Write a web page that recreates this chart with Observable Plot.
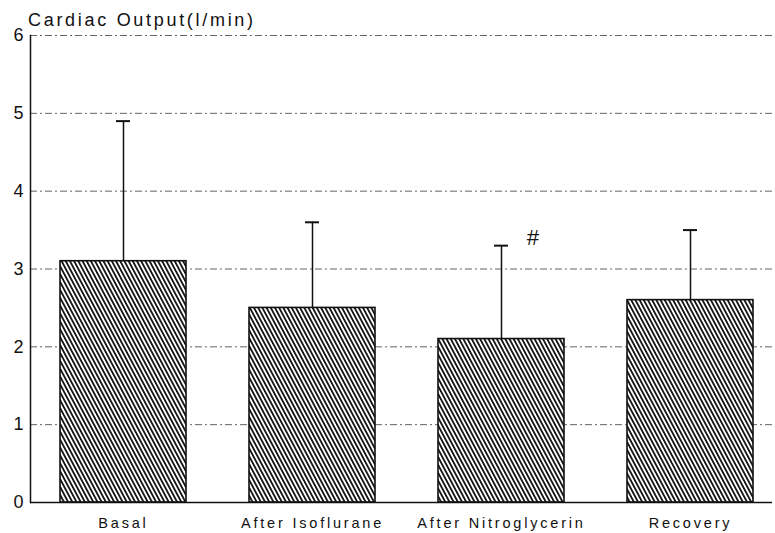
<!DOCTYPE html>
<html>
<head>
<meta charset="utf-8">
<script src="https://cdn.jsdelivr.net/npm/d3@7"></script>
<script src="https://cdn.jsdelivr.net/npm/@observablehq/plot@0.6"></script>
<style>
  body { margin: 0; background: white; }
  #title { height: 29px; box-sizing: border-box; padding-top: 11px; padding-left: 28px;
    font-family: "Liberation Sans", Arial, sans-serif; font-size: 18px; line-height: 18px;
    letter-spacing: 2.7px; color: #111; }
</style>
</head>
<body>
<div id="title">Cardiac Output(l/min)</div>
<div id="chart"></div>
<script>
const categories = ["Basal", "After Isoflurane", "After Nitroglycerin", "Recovery"];
const means = [3.1, 2.5, 2.1, 2.6];
const upperValues = [4.9, 3.6, 3.3, 3.5];
const yTicks = [0, 1, 2, 3, 4, 5, 6];
const gridValues = [1, 2, 3, 4, 5, 6];
const annotationCategories = ["After Nitroglycerin"];
const annotationSymbols = ["#"];

const data = categories.map((c, i) => ({category: c, mean: means[i], upper: upperValues[i]}));
const annotations = annotationCategories.map((c, i) => ({
  category: c, symbol: annotationSymbols[i],
  upper: upperValues[categories.indexOf(c)]
}));

const svg = Plot.plot({
  width: 775,
  height: 504,
  marginTop: 6,
  marginBottom: 31,
  marginLeft: 30,
  marginRight: 3,
  style: {fontFamily: "Liberation Sans, Arial, sans-serif", background: "white", overflow: "visible", color: "#111"},
  x: {domain: categories, range: [28.5, 784.5], paddingInner: 1/3, paddingOuter: 1/6, label: null},
  y: {domain: [0, 6], label: null},
  marks: [
    Plot.ruleY(gridValues, {stroke: "#222", strokeWidth: 1, strokeDasharray: "7,3,2,3", strokeOpacity: 0.7}),
    Plot.barY(data, {x: "category", y: "mean", fill: "url(#hatch)", stroke: "#111", strokeWidth: 1.6}),
    Plot.ruleX(data, {x: "category", y1: "mean", y2: "upper", stroke: "#111", strokeWidth: 1.5}),
    Plot.tickY(data, {x: "category", y: "upper", stroke: "#111", strokeWidth: 2, insetLeft: 56, insetRight: 56}),
    Plot.text(annotations, {x: "category", y: "upper", text: "symbol", dx: 31, dy: -8, fontSize: 22, fontStyle: "italic", fill: "#111"}),
    Plot.frame({anchor: "left", stroke: "#111", strokeWidth: 1.5}),
    Plot.ruleY([0], {stroke: "#111", strokeWidth: 1.5}),
    Plot.axisY({ticks: yTicks, tickSize: 0, tickPadding: 7, fontSize: 18, tickFormat: d => String(d), label: null}),
    Plot.axisX({tickSize: 0, tickPadding: 15, fontSize: 14.5, label: null})
  ]
});

const ns = "http://www.w3.org/2000/svg";
const defs = document.createElementNS(ns, "defs");
defs.innerHTML = `<pattern id="hatch" patternUnits="userSpaceOnUse" width="3.7" height="10" patternTransform="rotate(-28)">
  <rect width="3.7" height="10" fill="white"/>
  <rect width="1.8" height="10" fill="#111"/>
</pattern>`;
svg.insertBefore(defs, svg.firstChild);
d3.select(svg).selectAll('[aria-label="x-axis tick label"] text').attr("letter-spacing", "2.8px");

document.getElementById("chart").appendChild(svg);
</script>
</body>
</html>
